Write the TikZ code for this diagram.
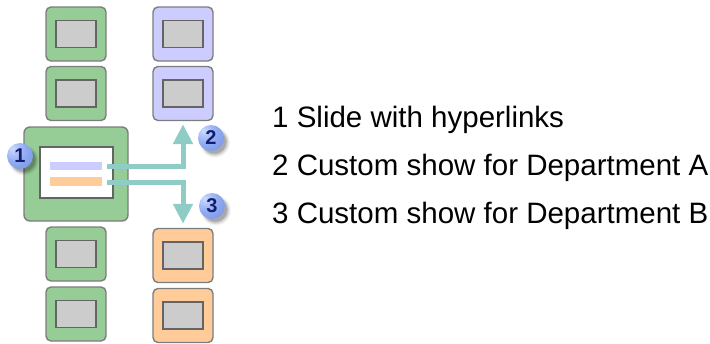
\documentclass[tikz,border=0pt]{standalone}
\usepackage{fontspec}
\setmainfont{Liberation Sans}
\usetikzlibrary{arrows.meta,shadows}
\definecolor{slgreen}{RGB}{150,204,150}
\definecolor{slpurple}{RGB}{204,204,255}
\definecolor{slorange}{RGB}{255,204,153}
\definecolor{slborder}{RGB}{125,125,125}
\definecolor{slgray}{RGB}{204,204,204}
\definecolor{slinner}{RGB}{100,100,100}
\definecolor{slteal}{RGB}{143,204,198}
\definecolor{badgeblue}{RGB}{145,172,242}
\definecolor{badgelight}{RGB}{205,218,255}
\definecolor{badgedark}{RGB}{105,130,220}
\definecolor{badgenum}{RGB}{20,30,110}
\pgfdeclareradialshading{badgeshade}{\pgfpoint{-15bp}{15bp}}{%
  color(0bp)=(badgelight); color(22bp)=(badgeblue); color(60bp)=(badgedark); color(100bp)=(badgedark)}
\begin{document}
\begin{tikzpicture}[x=1pt,y=-1pt,
  slidebox/.style={draw=slborder, line width=1.4pt, rounded corners=5pt,
    minimum width=60pt, minimum height=54pt, inner sep=0pt},
  screen/.style={draw=slinner, line width=1.4pt, fill=slgray,
    minimum width=40pt, minimum height=27pt, inner sep=0pt},
  bigbox/.style={draw=slborder, line width=1.4pt, rounded corners=6pt, fill=slgreen,
    minimum width=104pt, minimum height=94pt, inner sep=0pt},
  whitescreen/.style={draw=slinner, line width=1.4pt, fill=white,
    minimum width=73pt, minimum height=51pt, inner sep=0pt},
  bar/.style={minimum width=52pt, minimum height=8.5pt, inner sep=0pt},
  conn/.style={draw=slteal, line width=5pt,
    -{Triangle[width=19pt,length=20pt]}},
  badge/.style={circle, minimum size=26pt, inner sep=0pt, shading=badgeshade,
    circular drop shadow={shadow xshift=3pt, shadow yshift=-3.5pt, shadow scale=1.2, fill=black, opacity=0.08},
    circular drop shadow={shadow xshift=3pt, shadow yshift=-3.5pt, shadow scale=1.1, fill=black, opacity=0.12},
    circular drop shadow={shadow xshift=3pt, shadow yshift=-3.5pt, shadow scale=1.0, fill=black, opacity=0.18},
    text=badgenum, font=\fontsize{20}{20}\selectfont\bfseries},
  legend/.style={anchor=base west, inner sep=0pt, font=\fontsize{29.5}{31}\selectfont}
]
\useasboundingbox (0,0) rectangle (710,343);

% left column (green)
\node[slidebox, fill=slgreen] (g1) at (76,34) {};
\node[screen] (g1s) at (g1) {};
\node[slidebox, fill=slgreen] (g2) at (76,93.5) {};
\node[screen] (g2s) at (g2) {};
\node[slidebox, fill=slgreen] (g3) at (76,254) {};
\node[screen] (g3s) at (g3) {};
\node[slidebox, fill=slgreen] (g4) at (76,314) {};
\node[screen] (g4s) at (g4) {};

% right column top (purple)
\node[slidebox, fill=slpurple] (p1) at (183,34) {};
\node[screen] (p1s) at (p1) {};
\node[slidebox, fill=slpurple] (p2) at (183,93.5) {};
\node[screen] (p2s) at (p2) {};

% right column bottom (orange)
\node[slidebox, fill=slorange] (o1) at (183,255.5) {};
\node[screen] (o1s) at (o1) {};
\node[slidebox, fill=slorange] (o2) at (183,315.5) {};
\node[screen] (o2s) at (o2) {};

% big slide with hyperlinks
\node[bigbox] (big) at (76,174) {};
\node[whitescreen] (bigs) at (76.5,172.5) {};
\node[bar, fill=slpurple] (pbar) at (76,166) {};
\node[bar, fill=slorange] (obar) at (76,181.5) {};

% connectors
\draw[conn] ([xshift=5pt]pbar.east) -| ([yshift=-3pt]p2.south);
\draw[conn] ([xshift=5pt,yshift=-1pt]obar.east) -| ([yshift=4pt]o1.north);

% badges
\node[badge] (b1) at (20,156) {1};
\node[badge] (b2) at (211,138) {2};
\node[badge] (b3) at (212,206) {3};

% legend
\node[legend] (t1) at (272,127) {1 Slide with hyperlinks};
\node[legend] (t2) at (272,175) {2 Custom show for Department A};
\node[legend] (t3) at (272,223) {3 Custom show for Department B};
\end{tikzpicture}
\end{document}
